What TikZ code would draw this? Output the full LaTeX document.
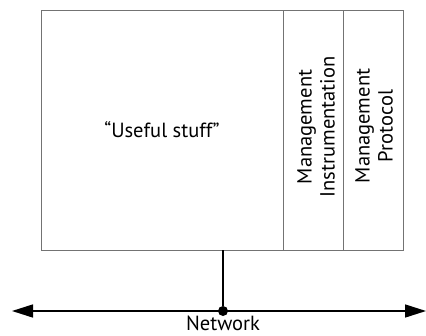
\documentclass[tikz,border=0pt]{standalone}
\usepackage{fontspec}
\setmainfont{PT Sans}
\usetikzlibrary{arrows.meta}

\begin{document}
\begin{tikzpicture}[x=1pt, y=-1pt, every node/.style={font=\fontsize{20.5}{23}\selectfont}]
        \tikzset{cell/.style={draw=black!55, line width=1pt}}
        \tikzset{label/.style={rotate=90, align=center, inner sep=0}}
        \useasboundingbox (0,0) rectangle (426,335);
        % the agent box and its two management columns
        \draw[cell] (41,10) rectangle (403,250);
        \draw[cell] (283,10) -- (283,250);
        \draw[cell] (343,10) -- (343,250);
        \node (useful) at (162,130) {“Useful stuff”};
        \node[label] (instr) at (316,127) {Management\\Instrumentation};
        \node[label] (proto) at (374,126) {Management\\Protocol};
        % network line
        \tikzset{netline/.style={{Triangle[length=21pt,width=13pt]}-{Triangle[length=21pt,width=13pt]}, line width=1.5pt}}
        \coordinate (tap) at (223,250);
        \coordinate (west) at (12,311);
        \coordinate (east) at (426,311);
        \node[circle, fill=black, inner sep=0, minimum size=10pt] (join) at (223,311) {};
        \draw[line width=1.5pt] (tap) -- (join);
        \draw[netline] (west) -- (east);
        \node[anchor=base, inner sep=0] (net) at (223,330.5) {Network};
      \end{tikzpicture}
\end{document}
